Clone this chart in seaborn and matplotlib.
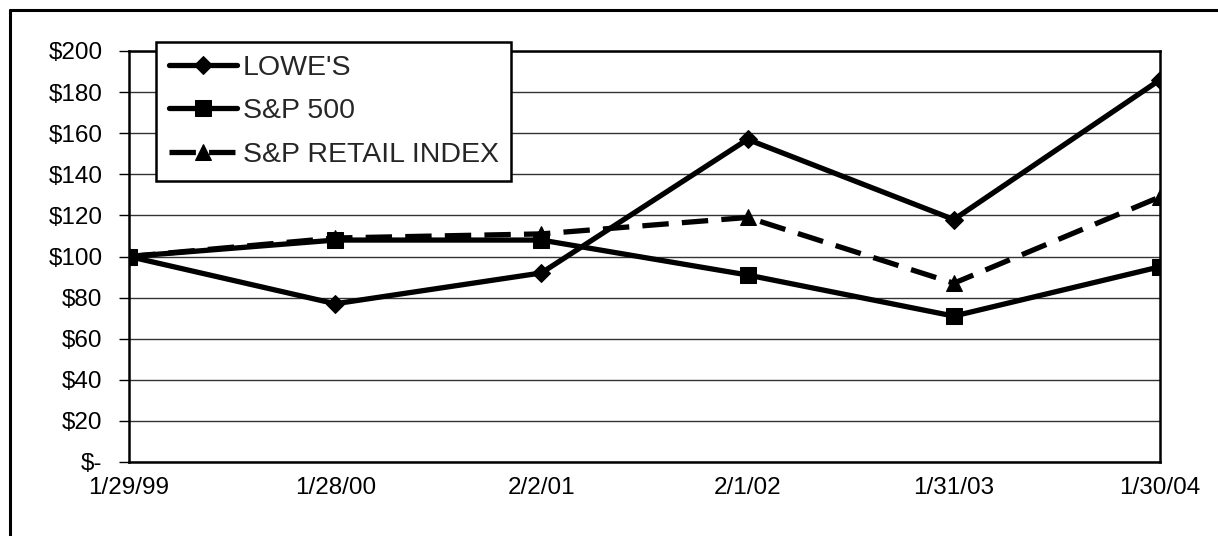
import pandas as pd
import matplotlib.pyplot as plt
import seaborn as sns
from matplotlib.lines import Line2D

# Datos
dates = ["1/29/99", "1/28/00", "2/2/01", "2/1/02", "1/31/03", "1/30/04"]
lowes = [100, 77, 92, 157, 118, 186]
sp500 = [100, 108, 108, 91, 71, 95]
sp_retail = [100, 109, 111, 119, 87, 129]
series_names = ["LOWE'S", "S&P 500", "S&P RETAIL INDEX"]
y_ticks = [0, 20, 40, 60, 80, 100, 120, 140, 160, 180, 200]
y_labels = ["$-"] + [f"${v}" for v in y_ticks[1:]]

df = pd.DataFrame({
    "date": dates * 3,
    "value": lowes + sp500 + sp_retail,
    "series": [series_names[0]] * 6 + [series_names[1]] * 6 + [series_names[2]] * 6,
})

sns.set_style("white")
plt.rcParams["font.family"] = ["Liberation Sans", "DejaVu Sans"]

fig = plt.figure(figsize=(12.18, 5.36), dpi=100)
ax = fig.add_axes([129 / 1218, 1 - 462 / 536, (1160 - 129) / 1218, (462 - 51) / 536])

styles = {
    "LOWE'S": dict(marker="D", markersize=9.5, dashes=None),
    "S&P 500": dict(marker="s", markersize=11.5, dashes=None),
    "S&P RETAIL INDEX": dict(marker="^", markersize=11.5, dashes=(5, 2.5)),
}

for name in series_names:
    sub = df[df["series"] == name]
    st = styles[name]
    sns.lineplot(data=sub, x="date", y="value", ax=ax, color="black",
                 linewidth=3.8, marker=st["marker"], markersize=st["markersize"],
                 markeredgecolor="black", markerfacecolor="black",
                 label=name, sort=False)
    if st["dashes"]:
        ax.lines[-1].set_dashes(st["dashes"])

ax.set_xlim(0, 5)
ax.set_ylim(0, 200)
ax.set_yticks(y_ticks)
ax.set_yticklabels(y_labels)
ax.set_xticks(range(len(dates)))
ax.set_xticklabels(dates)
ax.set_xlabel("")
ax.set_ylabel("")

ax.yaxis.grid(True, color="#333333", linewidth=1.0)
ax.set_axisbelow(True)
for sp in ax.spines.values():
    sp.set_visible(True)
    sp.set_color("black")
    sp.set_linewidth(1.8)

ax.tick_params(axis="y", left=True, length=7, width=1.0, pad=12, labelsize=17.5, colors="black")
ax.tick_params(axis="x", bottom=False, length=0, pad=11, labelsize=17.5, colors="black")

leg = ax.legend(loc="upper left", bbox_to_anchor=(0.026, 1.022), borderaxespad=0,
                fontsize=20.5, frameon=True, fancybox=False, framealpha=1,
                edgecolor="black", handlelength=2.4, handletextpad=0.2,
                labelspacing=0.62, borderpad=0.45)
leg.get_frame().set_linewidth(1.8)

# Marco exterior
fig.add_artist(Line2D([10 / 1218, 10 / 1218], [0, 1 - 10 / 536], transform=fig.transFigure,
                      color="black", linewidth=2.2))
fig.add_artist(Line2D([10 / 1218, 1], [1 - 10 / 536, 1 - 10 / 536], transform=fig.transFigure,
                      color="black", linewidth=2.2))

fig.savefig("out.png", dpi=100)
plt.close()
